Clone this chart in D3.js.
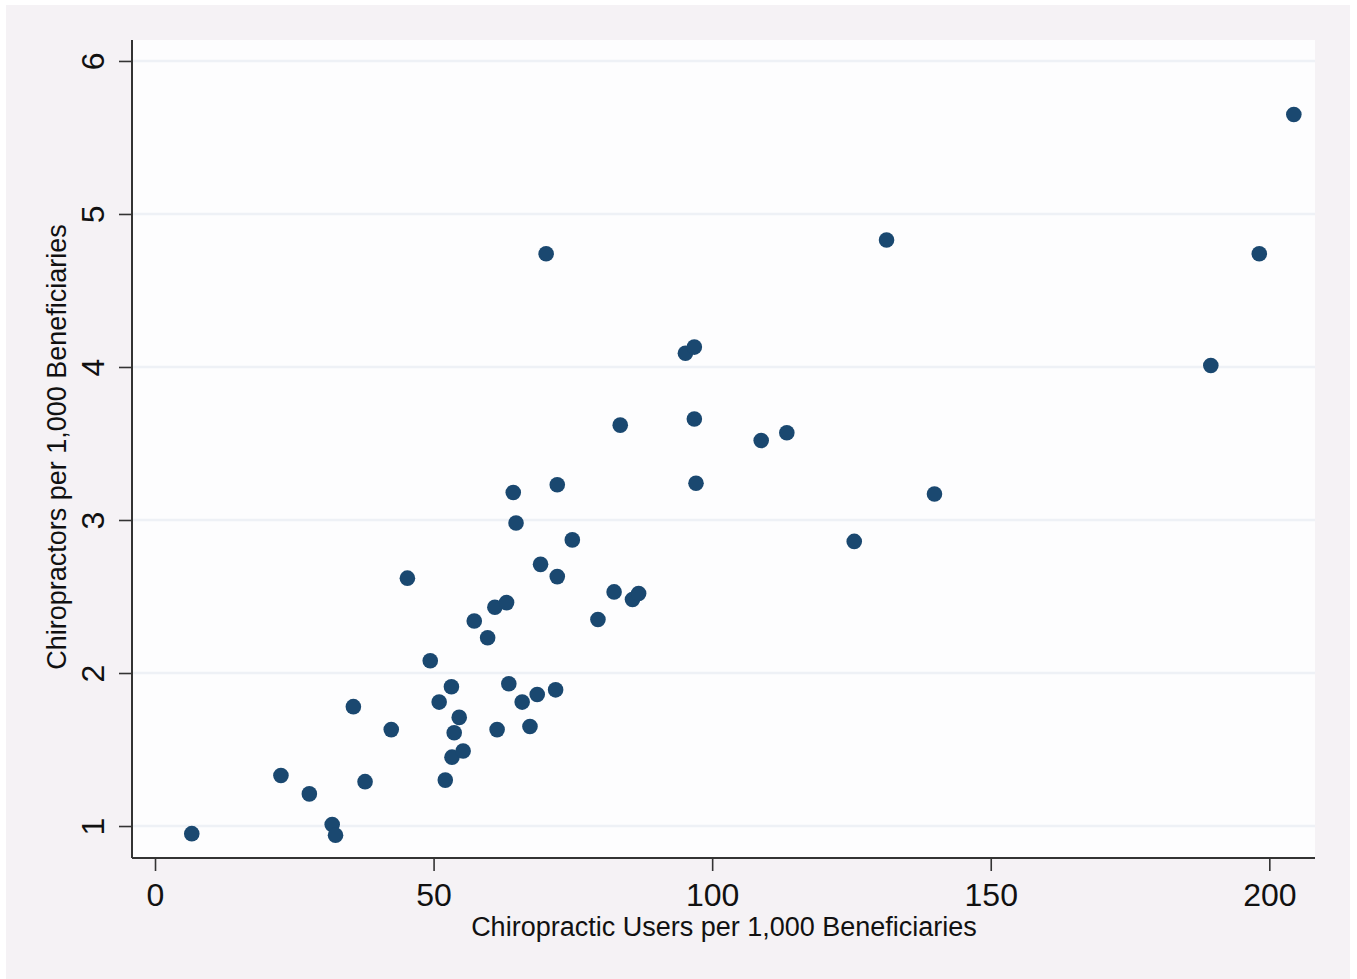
<!DOCTYPE html>
<html>
<head>
<meta charset="utf-8">
<script src="https://cdn.jsdelivr.net/npm/d3@7/dist/d3.min.js"></script>
<style>
  html, body { margin: 0; padding: 0; background: #ffffff; }
  svg { display: block; }
  text { font-family: "Liberation Sans", Arial, sans-serif; fill: #111; }
</style>
</head>
<body>
<svg id="chart" width="1357" height="979"></svg>
<script>
// Chiropractic users per 1,000 beneficiaries (x) vs chiropractors per 1,000 beneficiaries (y)
const usersPer1000 = [
  6.6, 22.6, 27.7, 31.8, 32.4, 35.6, 37.7, 42.4, 45.3, 49.4,
  51.0, 52.1, 53.2, 53.3, 53.7, 54.6, 55.3, 57.3, 59.7, 61.0,
  61.4, 63.1, 63.5, 64.3, 64.8, 65.9, 67.3, 68.6, 69.2, 70.2,
  71.9, 72.2, 72.2, 74.9, 79.5, 82.4, 83.5, 85.7, 86.8, 95.2,
  96.8, 96.8, 97.1, 108.8, 113.4, 125.5, 131.3, 139.9, 189.5, 198.2,
  204.4
];
const chiroPer1000 = [
  0.95, 1.33, 1.21, 1.01, 0.94, 1.78, 1.29, 1.63, 2.62, 2.08,
  1.81, 1.30, 1.91, 1.45, 1.61, 1.71, 1.49, 2.34, 2.23, 2.43,
  1.63, 2.46, 1.93, 3.18, 2.98, 1.81, 1.65, 1.86, 2.71, 4.74,
  1.89, 3.23, 2.63, 2.87, 2.35, 2.53, 3.62, 2.48, 2.52, 4.09,
  4.13, 3.66, 3.24, 3.52, 3.57, 2.86, 4.83, 3.17, 4.01, 4.74,
  5.65
];
const xTicks = [0, 50, 100, 150, 200];
const yTicks = [1, 2, 3, 4, 5, 6];
const xTitle = "Chiropractic Users per 1,000 Beneficiaries";
const yTitle = "Chiropractors per 1,000 Beneficiaries";

const points = usersPer1000.map((x, i) => ({ x, y: chiroPer1000[i] }));

const svg = d3.select("#chart");
const plot = { left: 132, top: 40, right: 1315, bottom: 858 };

// outer background
svg.append("rect").attr("x", 6).attr("y", 5).attr("width", 1344).attr("height", 974)
  .attr("fill", "#f5f2f5");
// plot region
svg.append("rect").attr("x", plot.left).attr("y", plot.top)
  .attr("width", plot.right - plot.left).attr("height", plot.bottom - plot.top)
  .attr("fill", "#fdfdfe");

const x = d3.scaleLinear().domain([-4.13, 208.2]).range([plot.left, plot.right]);
const y = d3.scaleLinear().domain([0.791, 6.137]).range([plot.bottom, plot.top]);

// gridlines
svg.append("g").selectAll("line").data(yTicks).join("line")
  .attr("x1", plot.left).attr("x2", plot.right)
  .attr("y1", d => y(d)).attr("y2", d => y(d))
  .attr("stroke", "#eef1f6").attr("stroke-width", 2.5);

// points
svg.append("g").selectAll("circle").data(points).join("circle")
  .attr("cx", d => x(d.x)).attr("cy", d => y(d.y)).attr("r", 7.8)
  .attr("fill", "#1a4870");

// x axis
const xAxis = svg.append("g").attr("transform", `translate(0,${plot.bottom})`)
  .call(d3.axisBottom(x).tickValues(xTicks).tickFormat(d3.format("d"))
    .tickSize(13).tickPadding(12).tickSizeOuter(0));
xAxis.select(".domain").attr("stroke", "#333").attr("stroke-width", 2)
  .attr("d", `M${plot.left},0H${plot.right}`);
xAxis.selectAll(".tick line").attr("stroke", "#333").attr("stroke-width", 1.6);
xAxis.selectAll(".tick text").attr("font-size", 32).attr("fill", "#111")
  .attr("font-family", "Liberation Sans, Arial, sans-serif");

// y axis
const yAxis = svg.append("g").attr("transform", `translate(${plot.left},0)`)
  .call(d3.axisLeft(y).tickValues(yTicks).tickFormat(d3.format("d"))
    .tickSize(13).tickPadding(14).tickSizeOuter(0));
yAxis.select(".domain").attr("stroke", "#333").attr("stroke-width", 2)
  .attr("d", `M0,${plot.top}V${plot.bottom}`);
yAxis.selectAll(".tick line").attr("stroke", "#333").attr("stroke-width", 1.6);
yAxis.selectAll(".tick text")
  .attr("font-size", 32).attr("fill", "#111")
  .attr("font-family", "Liberation Sans, Arial, sans-serif")
  .attr("x", null)
  .attr("text-anchor", "middle")
  .attr("transform", "translate(-39,0) rotate(-90)")
  .attr("dy", "0.35em");

// axis titles
svg.append("text").attr("x", 724).attr("y", 936)
  .attr("text-anchor", "middle").attr("font-size", 27).text(xTitle);
svg.append("text")
  .attr("transform", `translate(66,447) rotate(-90)`)
  .attr("text-anchor", "middle").attr("font-size", 27).text(yTitle);
</script>
</body>
</html>
